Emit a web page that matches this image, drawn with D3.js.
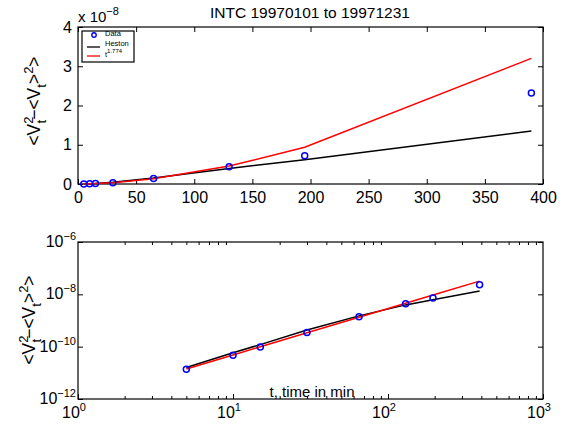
<!DOCTYPE html>
<html><head><meta charset="utf-8">
<script src="https://cdn.jsdelivr.net/npm/d3@7"></script>
<style>body{margin:0;background:#fff}svg{display:block}text{font-family:"Liberation Sans",Arial,sans-serif;fill:#000}</style>
</head><body><svg id="c" width="574" height="431"></svg>
<script>
const times = [5, 10, 15, 30, 65, 130, 195, 390];
const dataVals = [1.38e-11, 4.7e-11, 9.7e-11, 3.45e-10, 1.38e-9, 4.4e-9, 7.2e-9, 2.32e-8];
const hestonVals = [1.6e-11, 5.9e-11, 1.2e-10, 4.3e-10, 1.5e-9, 3.95e-9, 6.2e-9, 1.35e-8];
const powerVals = [1.40e-11, 4.81e-11, 9.88e-11, 3.38e-10, 1.33e-9, 4.56e-9, 9.36e-9, 3.2e-8];
const linXTicks = [0, 50, 100, 150, 200, 250, 300, 350, 400];
const linYTicks = [0, 1, 2, 3, 4];
const logXTicks = [0, 1, 2, 3];
const logYTicks = [-12, -10, -8, -6];
const titleText = "INTC 19970101 to 19971231";
const legendLabels = ["Data", "Heston", "t"];

const svg = d3.select("#c");
const L = 78, R = 543;
const top1 = 27, bot1 = 184, top2 = 242, bot2 = 399;

function yLabel(g, cx, cy) {
  const t = g.append("text").attr("transform", `translate(${cx},${cy}) rotate(-90)`)
    .attr("text-anchor", "middle").attr("font-size", 17.5);
  t.append("tspan").text("<V");
  t.append("tspan").attr("font-size", 13).attr("dy", -7).text("2");
  t.append("tspan").attr("font-size", 13).attr("dx", -7).attr("dy", 13).text("t");
  t.append("tspan").attr("dy", -6).text("\u2212<V");
  t.append("tspan").attr("font-size", 13).attr("dy", 6).text("t");
  t.append("tspan").attr("dy", -6).text(">");
  t.append("tspan").attr("font-size", 13).attr("dy", -7).text("2");
  t.append("tspan").attr("dy", 7).text(">");
}

// ---------- Top linear plot ----------
const x1 = d3.scaleLinear().domain([0, 400]).range([L, R]);
const y1 = d3.scaleLinear().domain([0, 4e-8]).range([bot1, top1]);
const g1 = svg.append("g");
g1.append("rect").attr("x", L).attr("y", top1).attr("width", R - L).attr("height", bot1 - top1)
  .attr("fill", "none").attr("stroke", "#000").attr("stroke-width", 1.2);
const ax1b = g1.append("g").attr("transform", `translate(0,${bot1})`)
  .call(d3.axisBottom(x1).tickValues(linXTicks).tickSize(-5).tickPadding(8).tickFormat(d3.format("d")));
const ax1t = g1.append("g").attr("transform", `translate(0,${top1})`)
  .call(d3.axisTop(x1).tickValues(linXTicks).tickSize(-5).tickFormat(""));
const ax1l = g1.append("g").attr("transform", `translate(${L},0)`)
  .call(d3.axisLeft(y1).tickValues(linYTicks.map(v => v * 1e-8)).tickSize(-5).tickPadding(6).tickFormat(v => Math.round(v * 1e8)));
const ax1r = g1.append("g").attr("transform", `translate(${R},0)`)
  .call(d3.axisRight(y1).tickValues(linYTicks.map(v => v * 1e-8)).tickSize(-5).tickFormat(""));
[ax1b, ax1t, ax1l, ax1r].forEach(a => { a.select(".domain").remove(); a.selectAll("text").attr("font-size", 16).style("font-family", "Liberation Sans, Arial"); });

const line1 = vals => d3.line().x((d, i) => x1(times[i])).y(d => y1(d))(vals);
g1.append("path").attr("d", line1(hestonVals)).attr("fill", "none").attr("stroke", "#000").attr("stroke-width", 1.5);
g1.append("path").attr("d", line1(powerVals)).attr("fill", "none").attr("stroke", "#f00").attr("stroke-width", 1.5);
g1.selectAll("circle.d").data(dataVals).enter().append("circle")
  .attr("cx", (d, i) => x1(times[i])).attr("cy", d => y1(d)).attr("r", 3)
  .attr("fill", "none").attr("stroke", "#00f").attr("stroke-width", 1.5);

// title and multiplier
svg.append("text").attr("x", 310).attr("y", 18).attr("text-anchor", "middle").attr("font-size", 15.5).text(titleText);
const mult = svg.append("text").attr("x", 78).attr("y", 22).attr("font-size", 15);
mult.append("tspan").text("x 10");
mult.append("tspan").attr("font-size", 11).attr("dy", -7).text("\u22128");

yLabel(svg, 40, 101);

// legend
const lg = svg.append("g");
lg.append("rect").attr("x", 82).attr("y", 31).attr("width", 52).attr("height", 31)
  .attr("fill", "#fff").attr("stroke", "#000").attr("stroke-width", 1.2);
lg.append("circle").attr("cx", 94).attr("cy", 35).attr("r", 2.2).attr("fill", "none").attr("stroke", "#00f").attr("stroke-width", 1.4);
lg.append("line").attr("x1", 87).attr("x2", 100).attr("y1", 47).attr("y2", 47).attr("stroke", "#000").attr("stroke-width", 1.3);
lg.append("line").attr("x1", 87).attr("x2", 100).attr("y1", 56).attr("y2", 56).attr("stroke", "#f00").attr("stroke-width", 1.3);
lg.append("text").attr("x", 105).attr("y", 36).attr("font-size", 7.5).text(legendLabels[0]);
lg.append("text").attr("x", 105).attr("y", 45.5).attr("font-size", 7.5).text(legendLabels[1]);
const lt = lg.append("text").attr("x", 105).attr("y", 57).attr("font-size", 7.5);
lt.append("tspan").text(legendLabels[2]);
lt.append("tspan").attr("font-size", 6).attr("dy", -4).text("1.774");

// ---------- Bottom log plot ----------
const x2 = d3.scaleLog().domain([1, 1000]).range([L, R]);
const y2 = d3.scaleLog().domain([1e-12, 1e-6]).range([bot2, top2]);
const g2 = svg.append("g");
g2.append("rect").attr("x", L).attr("y", top2).attr("width", R - L).attr("height", bot2 - top2)
  .attr("fill", "none").attr("stroke", "#000").attr("stroke-width", 1.2);
const minor = [];
for (let e = 0; e < 3; e++) for (let m = 2; m <= 9; m++) minor.push(m * Math.pow(10, e));
const ax2b = g2.append("g").attr("transform", `translate(0,${bot2})`)
  .call(d3.axisBottom(x2).tickValues(minor).tickSize(-3).tickFormat(""));
const ax2t = g2.append("g").attr("transform", `translate(0,${top2})`)
  .call(d3.axisTop(x2).tickValues(minor).tickSize(-3).tickFormat(""));
const ax2bm = g2.append("g").attr("transform", `translate(0,${bot2})`)
  .call(d3.axisBottom(x2).tickValues(logXTicks.map(e => Math.pow(10, e))).tickSize(-5).tickFormat(""));
const ax2l = g2.append("g").attr("transform", `translate(${L},0)`)
  .call(d3.axisLeft(y2).tickValues(logYTicks.map(e => Math.pow(10, e))).tickSize(-5).tickFormat(""));
const ax2r = g2.append("g").attr("transform", `translate(${R},0)`)
  .call(d3.axisRight(y2).tickValues(logYTicks.map(e => Math.pow(10, e))).tickSize(-5).tickFormat(""));
[ax2b, ax2t, ax2bm, ax2l, ax2r].forEach(a => a.select(".domain").remove());

logXTicks.forEach(e => {
  const t = g2.append("text").attr("x", x2(Math.pow(10, e)) - 4).attr("y", bot2 + 19).attr("text-anchor", "middle").attr("font-size", 16);
  t.append("tspan").text("10");
  t.append("tspan").attr("font-size", 11).attr("dy", -7).text(e);
});
logYTicks.forEach(e => {
  const t = g2.append("text").attr("x", L - 2).attr("y", y2(Math.pow(10, e)) + 5).attr("text-anchor", "end").attr("font-size", 16);
  t.append("tspan").text("10");
  t.append("tspan").attr("font-size", 11).attr("dy", -7).text("\u2212" + (-e));
});

const line2 = vals => d3.line().x((d, i) => x2(times[i])).y(d => y2(d))(vals);
g2.append("path").attr("d", line2(hestonVals)).attr("fill", "none").attr("stroke", "#000").attr("stroke-width", 1.5);
g2.append("path").attr("d", line2(powerVals)).attr("fill", "none").attr("stroke", "#f00").attr("stroke-width", 1.5);
g2.selectAll("circle.d").data(dataVals).enter().append("circle")
  .attr("cx", (d, i) => x2(times[i])).attr("cy", d => y2(d)).attr("r", 3)
  .attr("fill", "none").attr("stroke", "#00f").attr("stroke-width", 1.5);

svg.append("text").attr("x", 312).attr("y", 397).attr("text-anchor", "middle").attr("font-size", 15).text("t, time in min");
yLabel(svg, 35, 320);
</script></body></html>
